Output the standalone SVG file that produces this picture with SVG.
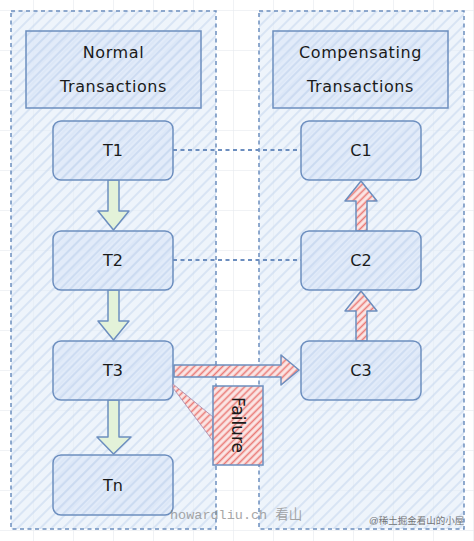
<svg xmlns="http://www.w3.org/2000/svg" width="474" height="541" viewBox="0 0 474 541">
<defs>
<pattern id="grid" width="40" height="40" patternUnits="userSpaceOnUse" x="33" y="10">
<path d="M0 0H40M0 0V40" fill="none" stroke="#e2e6ec" stroke-width="1"/>
</pattern>
<pattern id="hatchBlue" width="8" height="8" patternUnits="userSpaceOnUse" patternTransform="rotate(45)">
<rect width="8" height="8" fill="#e3ecf9" fill-opacity="0.6"/>
<line x1="2" y1="0" x2="2" y2="8" stroke="#c6d6ef" stroke-width="1.2" stroke-opacity="0.9"/>
</pattern>
<pattern id="hatchNode" width="7" height="7" patternUnits="userSpaceOnUse" patternTransform="rotate(45)">
<rect width="7" height="7" fill="#dde8f8" fill-opacity="0.75"/>
<line x1="2" y1="0" x2="2" y2="7" stroke="#c2d4ee" stroke-width="1.3"/>
</pattern>
<pattern id="hatchRed" width="5" height="5" patternUnits="userSpaceOnUse" patternTransform="rotate(45)">
<rect width="5" height="5" fill="#fbe7e6"/>
<line x1="1.5" y1="0" x2="1.5" y2="5" stroke="#ea7a76" stroke-width="1.6"/>
</pattern>
<style>
.container{fill:url(#hatchBlue);stroke:#6c8ebf;stroke-width:1.5;stroke-dasharray:4 3.5}
.title{fill:url(#hatchNode);stroke:#6c8ebf;stroke-width:1.5}
.node rect{fill:url(#hatchNode);stroke:#6c8ebf;stroke-width:1.5}
text{font-family:"DejaVu Sans","Liberation Sans",sans-serif;fill:#1a1a1a}
.lbl{font-size:16px;text-anchor:middle}
.ttl{font-size:16px;text-anchor:middle;letter-spacing:0.6px}
.dash{fill:none;stroke:#6c8ebf;stroke-width:1.8;stroke-dasharray:4 3.5}
.green{fill:#e3f2d9;stroke:#6c8ebf;stroke-width:1.5;stroke-linejoin:round}
.red{fill:url(#hatchRed);stroke:#6c8ebf;stroke-width:1.5;stroke-linejoin:round}
</style>
</defs>
<rect width="474" height="541" fill="#ffffff"/>
<rect width="474" height="541" fill="url(#grid)"/>

<g id="container-normal">
<rect class="container" x="11" y="11" width="205" height="518"/>
</g>
<g id="container-compensating">
<rect class="container" x="259" y="11" width="205" height="518"/>
</g>

<g id="title-normal">
<rect class="title" x="26" y="31" width="175" height="77"/>
<text class="ttl" x="113.5" y="58">Normal</text>
<text class="ttl" x="113.5" y="92">Transactions</text>
</g>
<g id="title-compensating">
<rect class="title" x="273" y="31" width="175" height="77"/>
<text class="ttl" x="360.5" y="58">Compensating</text>
<text class="ttl" x="360.5" y="92">Transactions</text>
</g>

<g id="connectors">
<path class="dash" d="M173 150H301"/>
<path class="dash" d="M173 260H301"/>
<path class="green" d="M108 180V211H98L113.5 230L129 211H119V180Z"/>
<path class="green" d="M108 290V321H98L113.5 340L129 321H119V290Z"/>
<path class="green" d="M108 400V437H97L113.5 454L131 437H119V400Z"/>
<path class="red" d="M356 231V201H345L361 181L377 201H367V231Z"/>
<path class="red" d="M356 341V311H345L361 291L377 311H367V341Z"/>
<path class="red" d="M174 365H281V355L299 370L281 385V377H174Z"/>
</g>

<g id="node-T1" class="node"><rect x="53" y="121" width="120" height="59" rx="8"/><text class="lbl" x="113" y="156">T1</text></g>
<g id="node-T2" class="node"><rect x="53" y="231" width="120" height="59" rx="8"/><text class="lbl" x="113" y="266">T2</text></g>
<g id="node-T3" class="node"><rect x="53" y="341" width="120" height="59" rx="8"/><text class="lbl" x="113" y="376">T3</text></g>
<g id="node-Tn" class="node"><rect x="53" y="455" width="120" height="60" rx="8"/><text class="lbl" x="113" y="491">Tn</text></g>
<g id="node-C1" class="node"><rect x="301" y="121" width="120" height="59" rx="8"/><text class="lbl" x="361" y="156">C1</text></g>
<g id="node-C2" class="node"><rect x="301" y="231" width="120" height="59" rx="8"/><text class="lbl" x="361" y="266">C2</text></g>
<g id="node-C3" class="node"><rect x="301" y="341" width="120" height="59" rx="8"/><text class="lbl" x="361" y="376">C3</text></g>

<g id="callout-failure">
<path d="M173 384L213 417L213 441L173 388Z" fill="url(#hatchRed)" stroke="#b39ab8" stroke-width="1"/>
<rect x="213" y="386" width="50" height="79" fill="url(#hatchRed)" stroke="#6c8ebf" stroke-width="1.5"/>
<text class="lbl" x="238" y="425" transform="rotate(90 238 425)" dy="6" style="font-size:17px">Failure</text>
</g>

<g id="watermarks">
<text x="170" y="519" style="font-family:'Liberation Mono','Noto Sans CJK SC',monospace;font-size:13.5px;fill:#8a8a8a;opacity:0.75">howardliu.ch 看山</text>
<text x="369" y="524" style="font-family:'Liberation Sans','Noto Sans CJK SC',sans-serif;font-size:9.5px;fill:#555;opacity:0.8">@稀土掘金看山的小屋</text>
</g>
</svg>
